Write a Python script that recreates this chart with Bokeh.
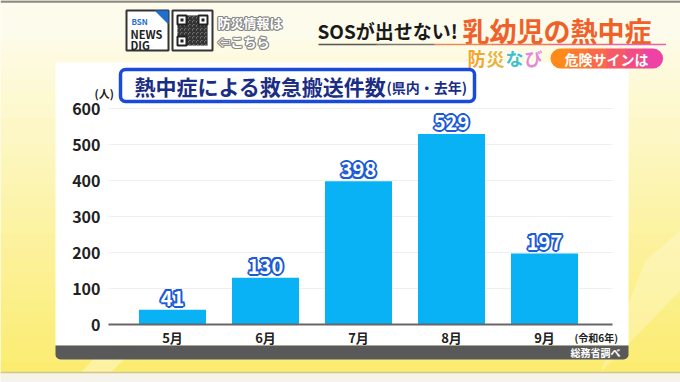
from bokeh.plotting import figure
from bokeh.models import Range1d, ColumnDataSource
from bokeh.embed import file_html
from bokeh.resources import INLINE
from bokeh.core.properties import value

# ---------------- data ----------------
months = ["5月", "6月", "7月", "8月", "9月"]
counts = [41, 130, 398, 529, 197]
yticks = [0, 100, 200, 300, 400, 500, 600]
title_main = "熱中症による救急搬送件数"
title_sub = "(県内・去年)"
unit_label = "(人)"
year_label = "(令和6年)"
source_label = "総務省調べ"

# ---------------- layout (reference pixel frame) ----------------
W, H = 680, 382
X0, DX = 172.0, 93.0      # centre of first bar / spacing (px)
Y0, KY = 324.0, 0.36      # baseline y (px) / px per person
JP = value("Noto Sans CJK JP")

p = figure(width=W, height=H, output_backend="svg", toolbar_location=None,
           x_range=Range1d((0 - X0) / DX, (W - X0) / DX),
           y_range=Range1d((Y0 - H) / KY, Y0 / KY),
           x_axis_location=None, y_axis_location=None,
           min_border=0, outline_line_color=None)
p.grid.visible = False
p.background_fill_color = "#fdfcec"
p.border_fill_color = "#fdfcec"
p.extra_x_ranges = {"px": Range1d(0, W)}
p.extra_y_ranges = {"px": Range1d(H, 0)}
PX = dict(x_range_name="px", y_range_name="px")


def box(l, t, r, b, color, line=None, lw=1, radius=0, alpha=1.0):
    p.quad(left=[l], right=[r], top=[t], bottom=[b], fill_color=color,
           fill_alpha=alpha, line_color=line, line_width=lw,
           border_radius=radius, **PX)


def label(x, y, txt, size, color, align="left", baseline="middle",
          bold=True, rng=PX):
    p.text(x=[x], y=[y], text=[txt], text_font=JP, text_font_size=f"{size}px",
           text_color=color, text_align=align, text_baseline=baseline,
           text_font_style="bold" if bold else "normal", **rng)


def mix(c1, c2, t):
    return "#%02x%02x%02x" % tuple(int(round(a + (b - a) * t)) for a, b in zip(c1, c2))


def outlined(x, y, txt, size, fill, stroke, sw, align="center", baseline="middle",
             rng=PX, yoff=0, **kw):
    d = sw * 0.7
    offs = [(-sw, 0), (sw, 0), (0, -sw), (0, sw), (-d, -d), (d, -d), (-d, d), (d, d)]
    for dx, dy in offs:
        p.text(x=x, y=y, text=txt, x_offset=dx, y_offset=dy + yoff, text_font=JP,
               text_font_size=f"{size}px", text_color=stroke, text_align=align,
               text_baseline=baseline, text_font_style="bold", **rng, **kw)
    p.text(x=x, y=y, text=txt, y_offset=yoff, text_font=JP,
           text_font_size=f"{size}px", text_color=fill, text_align=align,
           text_baseline=baseline, text_font_style="bold", **rng, **kw)


# ---------------- background ----------------
N = 26
for i in range(N):
    t0 = 40 + i * (335 / N)
    box(0, t0, W, t0 + 335 / N + 0.6, mix((253, 251, 228), (251, 236, 112), i / (N - 1)))
# faint light rays
p.patch(x=[150, 185, 110, 80], y=[300, 300, 372, 372], fill_color="white",
        fill_alpha=0.35, line_color=None, **PX)
p.patch(x=[645, 680, 680, 600], y=[260, 230, 290, 372], fill_color="white",
        fill_alpha=0.25, line_color=None, **PX)
p.segment(x0=[0], y0=[372], x1=[W], y1=[372], line_color="#c9c5a0", line_width=1.5, **PX)
box(0, 373, W, H, "#f6f4ea")
p.segment(x0=[0], y0=[1], x1=[W], y1=[1], line_color="#8d8b80", line_width=2.5, **PX)

# ---------------- panel ----------------
box(55, 62, 628, 345, "white")
box(55, 345, 628, 359, "#595959", radius=(0, 0, 5, 5))
label(620, 352, source_label, 10, "white", align="right")

# ---------------- header ----------------
# BSN NEWS DIG logo
box(126, 10, 168, 50, "white", line="#333333", lw=2)
p.patch(x=[154, 168, 168], y=[10, 10, 24], fill_color="#1f6fd0", line_color=None, **PX)
label(131, 21, "BSN", 8, "#1f6fd0")
label(130, 33, "NEWS", 11, "#222222")
label(130, 44, "DIG", 11, "#222222")
# QR code
box(172, 10, 212, 50, "white", line="#333333", lw=2)
p.quad(left=[177], right=[207], top=[15], bottom=[45], fill_color="#bbbbbb",
       line_color=None, hatch_pattern="criss_cross", hatch_color="#333333",
       hatch_scale=4, hatch_weight=1.5, **PX)
for (qx, qy) in [(177, 15), (198, 15), (177, 36)]:
    box(qx, qy, qx + 9, qy + 9, "white", line="#222222", lw=2)
    box(qx + 3, qy + 3, qx + 6, qy + 6, "#222222")

outlined([217], [22], ["防災情報は"], 13, "white", "#888888", 1.2, align="left")
outlined([217], [41], ["⇦こちら"], 13, "white", "#888888", 1.2, align="left")

# title
label(317, 30, "SOSが出せない!", 19, "#1a1a1a")
label(651, 30, "乳幼児の熱中症", 27, "#f0602a", align="right")
seg_cols = ["#555555", "#777777", "#e88a5a", "#f07a60", "#ee6a88", "#e463b8"]
for i, c in enumerate(seg_cols):
    x0 = 318 + i * (347 / len(seg_cols))
    p.segment(x0=[x0], y0=[44], x1=[x0 + 347 / len(seg_cols) + 0.5], y1=[44],
              line_color=c, line_width=1.5, **PX)

# 防災なび
for ch, cx, col in zip("防災なび", [476, 495, 514, 533],
                       ["#f4a62a", "#e9b43c", "#3fbfc8", "#e58ad0"]):
    outlined([cx], [57], [ch], 18, col, "#ffffff", 1.0)
# pill 危険サインは
pill_cols = ["#ff8a1a", "#ff7a30", "#fb6a48", "#f65a66", "#f14c84", "#ee42a4"]
nP = len(pill_cols)
for i, c in enumerate(pill_cols):
    l = 550 + i * (112 / nP)
    r = l + 112 / nP + 0.6
    rad = (10, 0, 0, 10) if i == 0 else ((0, 10, 10, 0) if i == nP - 1 else 0)
    box(l, 48, r, 68, c, radius=rad)
label(606, 58, "危険サインは", 14, "white", align="center")

# title box
box(120, 69, 474, 101, "white", line="#1a4ad8", lw=3.5, radius=5)
label(134, 85, title_main, 21, "#1b2d84")
label(386, 86, title_sub, 14, "#1b2d84")

# ---------------- chart ----------------
for v in yticks[1:]:
    p.segment(x0=[108], y0=[v], x1=[612], y1=[v], line_color="#efefef",
              line_width=1, x_range_name="px")
p.vbar(x=list(range(len(months))), top=counts, width=67 / DX, bottom=0,
       fill_color="#08b2f4", line_color=None)
p.segment(x0=[108], y0=[0], x1=[612], y1=[0], line_color="#666666",
          line_width=2, x_range_name="px")

# y tick labels
p.text(x=[100] * len(yticks), y=yticks, text=[str(v) for v in yticks],
       text_font=JP, text_font_size="16px", text_color="#222222",
       text_align="right", text_baseline="middle", text_font_style="bold",
       x_range_name="px")
label(94, 92, unit_label, 11, "#222222")

# month labels
p.text(x=list(range(len(months))), y=[337] * len(months), text=months,
       text_font=JP, text_font_size="13px", text_color="#222222",
       text_align="center", text_baseline="middle", text_font_style="bold",
       y_range_name="px")
label(574, 337, year_label, 10, "#222222")

# value labels
src = ColumnDataSource(dict(x=list(range(len(months))), y=counts,
                            t=[str(c) for c in counts]))
outlined("x", "y", "t", 20, "white", "#1d5ad6", 2.0, baseline="bottom",
         rng={}, yoff=-4, source=src)

open("out.html", "w").write(file_html(p, INLINE))
